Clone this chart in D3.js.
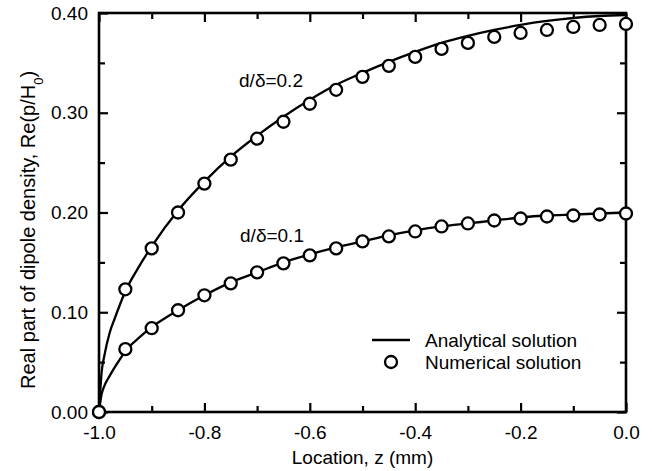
<!DOCTYPE html>
<html>
<head>
<meta charset="utf-8">
<script src="https://cdn.jsdelivr.net/npm/d3@7"></script>
<style>
  body { margin: 0; background: #fff; }
  svg { font-family: "Liberation Sans", Arial, sans-serif; }
</style>
</head>
<body>
<div id="chart"></div>
<script>
// numerical solution: sampled every 0.05 mm
var zNum = [-1.0, -0.95, -0.9, -0.85, -0.8, -0.75, -0.7, -0.65, -0.6, -0.55, -0.5,
            -0.45, -0.4, -0.35, -0.3, -0.25, -0.2, -0.15, -0.1, -0.05, 0.0];
var num02 = [0.000, 0.123, 0.164, 0.200, 0.229, 0.253, 0.274, 0.291, 0.309, 0.323, 0.336,
             0.347, 0.356, 0.364, 0.370, 0.376, 0.380, 0.383, 0.386, 0.388, 0.389];
var num01 = [0.000, 0.063, 0.084, 0.102, 0.117, 0.129, 0.140, 0.149, 0.157, 0.164, 0.171,
             0.176, 0.181, 0.186, 0.189, 0.192, 0.194, 0.196, 0.197, 0.198, 0.199];

// analytical solution (denser near the wall)
var zAna = [-1.0, -0.995, -0.99, -0.98, -0.97, -0.96, -0.95, -0.925, -0.9, -0.85, -0.8, -0.75,
            -0.7, -0.65, -0.6, -0.55, -0.5, -0.45, -0.4, -0.35, -0.3, -0.25, -0.2, -0.15,
            -0.1, -0.05, 0.0];
var ana02 = [0.000, 0.040, 0.056, 0.079, 0.094, 0.108, 0.121, 0.145, 0.166, 0.202, 0.231, 0.256,
             0.277, 0.296, 0.313, 0.328, 0.340, 0.351, 0.361, 0.370, 0.377, 0.383, 0.388, 0.392,
             0.395, 0.397, 0.398];
var ana01 = [0.000, 0.018, 0.026, 0.036, 0.045, 0.053, 0.061, 0.074, 0.085, 0.102, 0.117, 0.130,
             0.140, 0.150, 0.158, 0.165, 0.171, 0.177, 0.182, 0.186, 0.189, 0.192, 0.195, 0.197,
             0.198, 0.199, 0.200];

var curveLabels = ["d/\u03b4=0.2", "d/\u03b4=0.1"];
var legendLabels = ["Analytical solution", "Numerical solution"];

var width = 652, height = 471;
var margin = {top: 13, right: 26, bottom: 59, left: 99};
var fontSize = 19;

var svg = d3.select("#chart").append("svg")
  .attr("width", width)
  .attr("height", height);

var x = d3.scaleLinear().domain([-1.0, 0.0]).range([margin.left, width - margin.right]);
var y = d3.scaleLinear().domain([0, 0.4]).range([height - margin.bottom, margin.top]);

var fmtX = function(d) { return d3.format(".1f")(d).replace("\u2212", "-"); };
var fmtY = function(d) { return d3.format(".2f")(d); };

// axes with inward ticks on all four sides
function drawAxis(axis, tx, ty, showLabels) {
  var g = svg.append("g").attr("transform", "translate(" + tx + "," + ty + ")").call(axis);
  g.select(".domain").remove();
  g.selectAll(".tick line").attr("stroke", "#000").attr("stroke-width", 2.2);
  g.selectAll(".tick text").attr("fill", "#000").style("font-size", fontSize + "px")
    .style("font-family", "Liberation Sans, Arial, sans-serif");
  if (!showLabels) g.selectAll(".tick text").remove();
  return g;
}

var xMajor = d3.range(-1.0, 0.001, 0.2);
var xMinor = d3.range(-0.9, 0, 0.2);
var yMajor = d3.range(0, 0.401, 0.1);
var yMinor = d3.range(0.05, 0.4, 0.1);

drawAxis(d3.axisBottom(x).tickValues(xMajor).tickSize(-9).tickPadding(14).tickFormat(fmtX), 0, y(0), true);
drawAxis(d3.axisBottom(x).tickValues(xMinor).tickSize(-6), 0, y(0), false);
drawAxis(d3.axisTop(x).tickValues(xMajor).tickSize(-9), 0, y(0.4), false);
drawAxis(d3.axisTop(x).tickValues(xMinor).tickSize(-6), 0, y(0.4), false);
drawAxis(d3.axisLeft(y).tickValues(yMajor).tickSize(-9).tickPadding(11).tickFormat(fmtY), x(-1), 0, true);
drawAxis(d3.axisLeft(y).tickValues(yMinor).tickSize(-6), x(-1), 0, false);
drawAxis(d3.axisRight(y).tickValues(yMajor).tickSize(-9), x(0), 0, false);
drawAxis(d3.axisRight(y).tickValues(yMinor).tickSize(-6), x(0), 0, false);

svg.append("rect")
  .attr("x", x(-1)).attr("y", y(0.4))
  .attr("width", x(0) - x(-1)).attr("height", y(0) - y(0.4))
  .attr("fill", "none").attr("stroke", "#000").attr("stroke-width", 2.6);

// analytical curves
var line = d3.line()
  .x(function(d) { return x(d[0]); })
  .y(function(d) { return y(d[1]); })
  .curve(d3.curveMonotoneX);

[ana02, ana01].forEach(function(vals) {
  svg.append("path")
    .datum(zAna.map(function(z, i) { return [z, vals[i]]; }))
    .attr("d", line)
    .attr("fill", "none")
    .attr("stroke", "#000")
    .attr("stroke-width", 2.3);
});

// numerical circles
[num02, num01].forEach(function(vals) {
  svg.append("g").selectAll("circle")
    .data(zNum.map(function(z, i) { return [z, vals[i]]; }))
    .enter().append("circle")
    .attr("cx", function(d) { return x(d[0]); })
    .attr("cy", function(d) { return y(d[1]); })
    .attr("r", 6)
    .attr("fill", "#fff")
    .attr("stroke", "#000")
    .attr("stroke-width", 2.3);
});

// curve labels
svg.append("text").attr("x", 271).attr("y", 87).attr("text-anchor", "middle")
  .style("font-size", fontSize + "px").text(curveLabels[0]);
svg.append("text").attr("x", 272).attr("y", 242).attr("text-anchor", "middle")
  .style("font-size", fontSize + "px").text(curveLabels[1]);

// legend
var lg = svg.append("g");
lg.append("line").attr("x1", 372).attr("x2", 410).attr("y1", 340).attr("y2", 340)
  .attr("stroke", "#000").attr("stroke-width", 2.3);
lg.append("circle").attr("cx", 391).attr("cy", 362).attr("r", 6)
  .attr("fill", "#fff").attr("stroke", "#000").attr("stroke-width", 2.3);
lg.append("text").attr("x", 425).attr("y", 347).style("font-size", fontSize + "px").text(legendLabels[0]);
lg.append("text").attr("x", 425).attr("y", 369).style("font-size", fontSize + "px").text(legendLabels[1]);

// axis titles
svg.append("text")
  .attr("x", (x(-1) + x(0)) / 2).attr("y", 464)
  .attr("text-anchor", "middle").style("font-size", fontSize + "px")
  .text("Location, z (mm)");

var yt = svg.append("text")
  .attr("transform", "translate(35,230) rotate(-90)")
  .attr("text-anchor", "middle").style("font-size", "20px");
yt.append("tspan").text("Real part of dipole density, Re(p/H");
yt.append("tspan").attr("baseline-shift", "sub").style("font-size", "13px").text("0");
yt.append("tspan").text(")");
</script>
</body>
</html>
